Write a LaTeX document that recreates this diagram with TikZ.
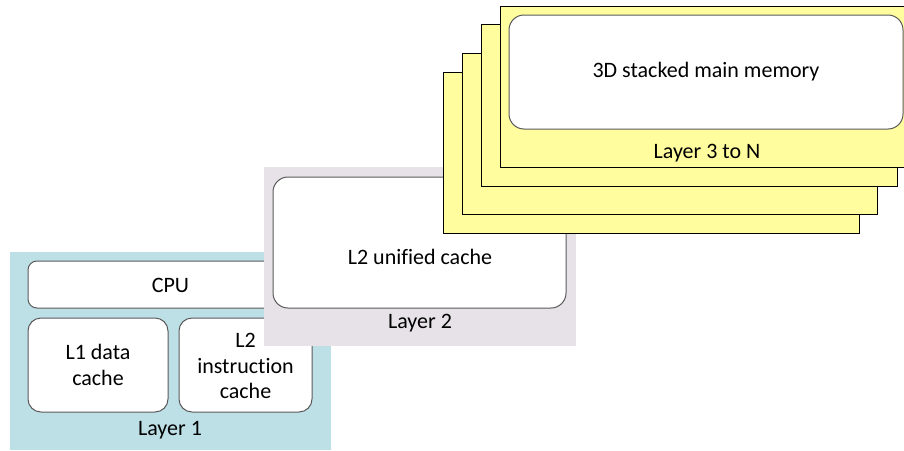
\documentclass[tikz,border=0pt]{standalone}
\usepackage{fontspec}
\setmainfont{Carlito}[Ligatures=NoCommon]
\definecolor{layerblue}{HTML}{BDE0E6}
\definecolor{layergray}{HTML}{E6E2E7}
\definecolor{sheetyellow}{HTML}{FFFD9E}
\definecolor{boxedge}{HTML}{5A5A5A}
\tikzset{
  layerbg/.style={draw=none, anchor=north west, inner sep=0pt, outer sep=0pt},
  sheet/.style={draw=black, fill=sheetyellow, line width=0.9pt, anchor=north west, inner sep=0pt, outer sep=0pt},
  unitbox/.style={draw=boxedge, fill=white, line width=1pt, rounded corners=13pt, anchor=north west, inner sep=0pt, outer sep=0pt},
  lbl/.style={font=\fontsize{22}{25.5}\selectfont, align=center, inner sep=0pt, text=black}
}
\begin{document}
\begin{tikzpicture}[x=1pt, y=-1pt]
\useasboundingbox (0,0) rectangle (904,450);
\fill[white] (0,0) rectangle (904,450);
\clip (0,0) rectangle (904,450);
% Layer 1
\node[layerbg, fill=layerblue, minimum width=321pt, minimum height=198pt] (layer1) at (10,252) {};
\node[unitbox, rounded corners=9pt, minimum width=285pt, minimum height=47pt] (cpu) at (28,261) {};
\node[lbl] (cputxt) at (170.5,285) {CPU};
\node[unitbox, minimum width=140pt, minimum height=94pt] (l1d) at (28,318) {};
\node[lbl] (l1dtxt) at (98,365) {L1 data\\cache};
\node[unitbox, minimum width=133pt, minimum height=94pt] (l2i) at (179,318) {};
\node[lbl] (l2itxt) at (245.5,366) {L2\\instruction\\cache};
\node[lbl] (lay1txt) at (170,430) {Layer 1};
% Layer 2
\node[layerbg, fill=layergray, minimum width=312pt, minimum height=179pt] (layer2) at (264,167) {};
\node[unitbox, rounded corners=15pt, minimum width=293pt, minimum height=131pt] (l2u) at (273,177) {};
\node[lbl] (l2utxt) at (420,257) {L2 unified cache};
\node[lbl] (lay2txt) at (420,323) {Layer 2};
% Layers 3 to N
\node[sheet, minimum width=416pt, minimum height=161pt] (sheetA) at (443,72) {};
\node[sheet, minimum width=415pt, minimum height=161pt] (sheetB) at (462,53) {};
\node[sheet, minimum width=416pt, minimum height=162pt] (sheetC) at (481,24) {};
\node[sheet, minimum width=416pt, minimum height=161pt] (sheetD) at (500,6) {};
\node[unitbox, rounded corners=15pt, minimum width=394pt, minimum height=114pt] (mem) at (509,15) {};
\node[lbl] (memtxt) at (706,72) {3D stacked main memory};
\node[lbl] (lay3txt) at (707,153) {Layer 3 to N};
\end{tikzpicture}
\end{document}
